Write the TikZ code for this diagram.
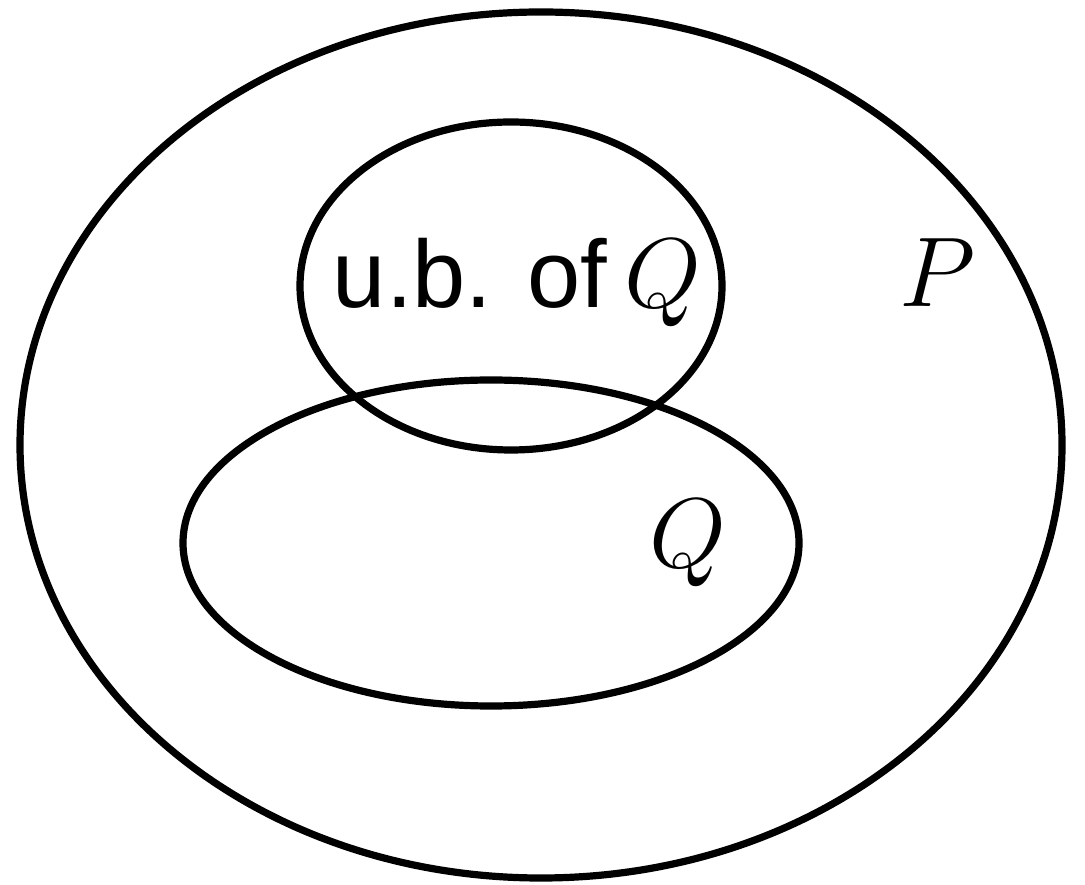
\documentclass[tikz,border=0pt]{standalone}
\usepackage{fontspec}
\newfontfamily\ubfont{Liberation Sans}
\usepackage{tikz}

\begin{document}
\begin{tikzpicture}[x=0.25bp,y=-0.25bp]
\useasboundingbox (0,0) rectangle (1085,885);
\draw[line width=1.8bp] (541,445) ellipse (521 and 433);
\draw[line width=1.8bp] (511,286) ellipse (211 and 164);
\draw[line width=1.8bp] (491,543) ellipse (308 and 163);
\node[anchor=base, inner sep=0pt, font=\fontsize{25}{30}\selectfont] (ublabel) at (517,308) {{\ubfont\fontsize{24}{29}\selectfont u.b. of}\,$Q$};
\node[anchor=base, inner sep=0pt, font=\fontsize{25}{30}\selectfont] (qlabel) at (688,568) {$Q$};
\node[anchor=base, inner sep=0pt, font=\fontsize{25}{30}\selectfont] (plabel) at (938,307) {$P$};
\end{tikzpicture}
\end{document}
